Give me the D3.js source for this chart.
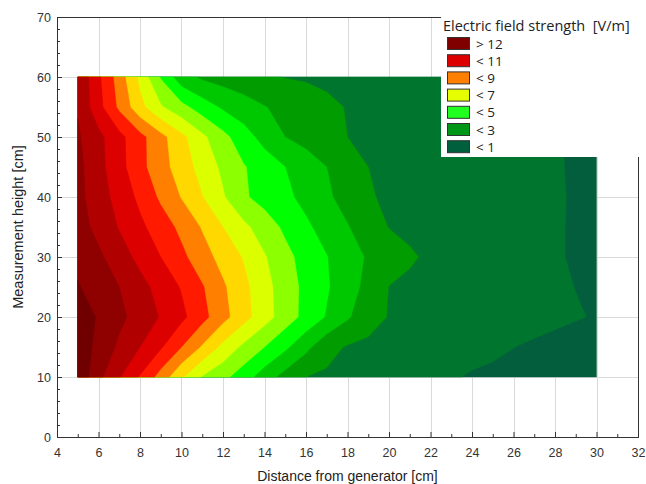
<!DOCTYPE html>
<html>
<head>
<meta charset="utf-8">
<script src="https://cdn.jsdelivr.net/npm/d3@7"></script>
<style>
  body { margin: 0; background: #fff; }
  svg { display: block; font-family: "Liberation Sans", Arial, sans-serif; }
</style>
</head>
<body>
<svg id="chart" width="646" height="484"></svg>
<script>
// measurement grid : distance from generator [cm] (columns) x height [cm] (rows)
const distances = [5, 6, 7, 8, 9, 10, 11, 12, 13, 14, 15, 16, 17, 18, 19, 20, 21, 22, 23, 24, 25, 26, 27, 28, 29, 30];
const heights = [10, 15, 20, 25, 30, 35, 40, 45, 50, 55, 60];

// electric field strength [V/m], one array per measurement height
const e10 = [13.83, 12.27, 11.06, 9.92, 8.6, 7.15, 5.93, 5.27, 4.47, 3.48, 2.64, 2.0, 1.87, 1.73, 1.6, 1.47, 1.33, 1.2, 1.07, 0.93, 0.87, 0.8, 0.73, 0.67, 0.6, 0.53];
const e15 = [13.64, 12.71, 11.81, 11.0, 10.12, 9.0, 7.88, 6.74, 5.77, 5.0, 4.19, 3.26, 2.29, 1.92, 1.81, 1.69, 1.58, 1.47, 1.35, 1.24, 1.13, 1.01, 0.9, 0.8, 0.7, 0.6];
const e20 = [13.56, 12.9, 12.24, 11.59, 10.93, 10.24, 9.32, 8.32, 7.36, 6.41, 5.51, 4.69, 3.92, 3.12, 2.37, 1.95, 1.85, 1.75, 1.65, 1.55, 1.45, 1.35, 1.25, 1.15, 1.05, 0.95];
const e25 = [13.08, 12.54, 12.0, 11.33, 10.64, 9.92, 9.08, 8.14, 7.26, 6.35, 5.49, 4.74, 4.1, 3.43, 2.7, 1.98, 1.87, 1.77, 1.66, 1.55, 1.44, 1.33, 1.22, 1.11, 0.99, 0.88];
const e30 = [12.75, 12.19, 11.48, 10.71, 10.0, 9.23, 8.42, 7.64, 6.92, 6.08, 5.29, 4.62, 4.03, 3.43, 2.89, 2.49, 2.08, 1.89, 1.75, 1.62, 1.48, 1.34, 1.2, 1.07, 0.93, 0.8];
const e35 = [12.46, 11.69, 10.93, 10.21, 9.5, 8.75, 7.91, 7.0, 6.23, 5.5, 4.81, 4.17, 3.61, 3.06, 2.45, 1.97, 1.86, 1.74, 1.63, 1.51, 1.4, 1.29, 1.17, 1.06, 0.94, 0.83];
const e40 = [12.29, 11.46, 10.63, 9.77, 8.82, 7.94, 7.04, 6.1, 5.13, 4.64, 4.21, 3.72, 3.17, 2.61, 2.06, 1.9, 1.8, 1.69, 1.59, 1.48, 1.38, 1.27, 1.16, 1.06, 0.95, 0.85];
const e45 = [12.29, 11.32, 10.35, 9.29, 8.38, 7.51, 6.62, 5.79, 5.07, 4.53, 4.0, 3.5, 3.0, 2.5, 2.0, 1.89, 1.79, 1.68, 1.58, 1.47, 1.37, 1.26, 1.15, 1.05, 0.94, 0.84];
const e50 = [12.13, 11.26, 10.29, 9.29, 8.3, 7.26, 6.21, 5.3, 4.41, 3.65, 3.0, 2.67, 2.33, 2.0, 1.9, 1.81, 1.71, 1.62, 1.52, 1.42, 1.33, 1.23, 1.13, 1.04, 0.94, 0.85];
const e55 = [11.92, 10.33, 8.79, 7.31, 6.11, 5.31, 4.5, 3.84, 3.44, 3.04, 2.74, 2.46, 2.17, 1.96, 1.87, 1.78, 1.69, 1.6, 1.5, 1.41, 1.32, 1.23, 1.14, 1.05, 0.95, 0.85];
const e60 = [11.9, 10.19, 8.52, 6.74, 4.92, 3.39, 2.84, 2.6, 2.37, 2.14, 1.97, 1.9, 1.83, 1.76, 1.68, 1.61, 1.54, 1.47, 1.4, 1.32, 1.25, 1.18, 1.11, 1.04, 0.96, 0.9];

// contour levels and their fills (lowest first)
const levels = [0, 1, 2, 3, 4, 5, 6, 7, 8, 9, 10, 11, 12, 13];
const levelColors = ["#025e3c", "#00752e", "#009c00", "#00c800", "#00ff00", "#8cff00", "#dcff00",
                     "#ffd800", "#ff8000", "#ff1a00", "#dc0000", "#b00000", "#8f0000", "#700000"];

const legendLabels = ["> 12", "< 11", "< 9", "< 7", "< 5", "< 3", "< 1"];
const legendColors = ["#800000", "#dd0000", "#ff7f00", "#e6ff00", "#20ff20", "#009618", "#005f3c"];

const xTicks = [4, 6, 8, 10, 12, 14, 16, 18, 20, 22, 24, 26, 28, 30, 32];
const yTicks = [0, 10, 20, 30, 40, 50, 60, 70];

const svg = d3.select("#chart");
const pL = 57, pR = 638, pT = 17, pB = 437;

const x = d3.scaleLinear().domain([4, 32]).range([pL, pR]);
const y = d3.scaleLinear().domain([0, 70]).range([pB, pT]);

// grid
const grid = svg.append("g").attr("stroke", "#dadada").attr("stroke-width", 1);
grid.selectAll(".gx").data(xTicks.slice(1, -1)).join("line")
  .attr("x1", d => Math.round(x(d)) + 0.5).attr("x2", d => Math.round(x(d)) + 0.5)
  .attr("y1", pT).attr("y2", pB);
grid.selectAll(".gy").data(yTicks.slice(1, -1)).join("line")
  .attr("x1", pL).attr("x2", pR)
  .attr("y1", d => Math.round(y(d)) + 0.5).attr("y2", d => Math.round(y(d)) + 0.5);

// filled contours
const nx = distances.length, ny = heights.length;
const field = [e10, e15, e20, e25, e30, e35, e40, e45, e50, e55, e60].flat();
const contours = d3.contours().size([nx, ny]).thresholds(levels)(field);

// grid index -> data units (values sit at index + 0.5)
function idx(arr, c) {
  const t = Math.max(0, Math.min(arr.length - 1, c - 0.5));
  const i = Math.min(arr.length - 2, Math.floor(t));
  return arr[i] + (arr[i + 1] - arr[i]) * (t - i);
}
const proj = d3.geoTransform({
  point(cx, cy) { this.stream.point(x(idx(distances, cx)), y(idx(heights, cy))); }
});
const path = d3.geoPath(proj);

svg.append("g").selectAll("path").data(contours).join("path")
  .attr("d", path)
  .attr("fill", (d, i) => levelColors[i])
  .attr("stroke", (d, i) => levelColors[i])
  .attr("stroke-width", 0.4);

// axes, ticks inside
function styleAxis(g) {
  g.select(".domain").remove();
  g.selectAll(".tick line").attr("stroke", "#333");
  g.selectAll(".tick text").attr("fill", "#333").style("font-size", "12.5px");
}
svg.append("g").attr("transform", `translate(0,${pB})`)
  .call(d3.axisBottom(x).tickValues(xTicks).tickSize(-5).tickPadding(11))
  .call(styleAxis);
svg.append("g").attr("transform", `translate(0,${pB})`)
  .call(d3.axisBottom(x).tickValues(d3.range(5, 32, 2)).tickSize(-3).tickFormat(""))
  .call(styleAxis);
svg.append("g").attr("transform", `translate(${pL},0)`)
  .call(d3.axisLeft(y).tickValues(yTicks).tickSize(-5).tickPadding(6))
  .call(styleAxis);
svg.append("g").attr("transform", `translate(${pL},0)`)
  .call(d3.axisLeft(y).tickValues(d3.range(2, 70, 2).filter(v => v % 10)).tickSize(-3).tickFormat(""))
  .call(styleAxis);

svg.append("rect")
  .attr("x", pL + 0.5).attr("y", pT + 0.5)
  .attr("width", pR - pL).attr("height", pB - pT)
  .attr("fill", "none").attr("stroke", "#333");

// axis titles
svg.append("text")
  .attr("x", (pL + pR) / 2).attr("y", 480.5)
  .attr("text-anchor", "middle").attr("fill", "#222")
  .style("font-size", "14px")
  .text("Distance from generator [cm]");
svg.append("text")
  .attr("transform", `translate(23,${(pT + pB) / 2}) rotate(-90)`)
  .attr("text-anchor", "middle").attr("fill", "#222")
  .style("font-size", "14.5px")
  .text("Measurement height [cm]");

// legend
const lg = svg.append("g");
lg.append("rect").attr("x", 441).attr("y", 12).attr("width", 205).attr("height", 145).attr("fill", "#fff");
lg.append("text")
  .attr("x", 443).attr("y", 31)
  .attr("fill", "#222")
  .style("font-family", "'Open Sans', sans-serif")
  .style("font-size", "14.5px")
  .style("white-space", "pre")
  .text("Electric field strength  [V/m]");
const items = lg.selectAll(".item").data(legendLabels).join("g")
  .attr("transform", (d, i) => `translate(447,${37 + i * 17.2})`);
items.append("rect")
  .attr("x", 0.5).attr("y", 0.5).attr("width", 22).attr("height", 12)
  .attr("fill", (d, i) => legendColors[i]).attr("stroke", "#333");
items.append("text")
  .attr("x", 29).attr("y", 11.5)
  .attr("fill", "#222")
  .style("font-family", "'Open Sans', sans-serif")
  .style("font-size", "13.5px")
  .text(d => d);
</script>
</body>
</html>
